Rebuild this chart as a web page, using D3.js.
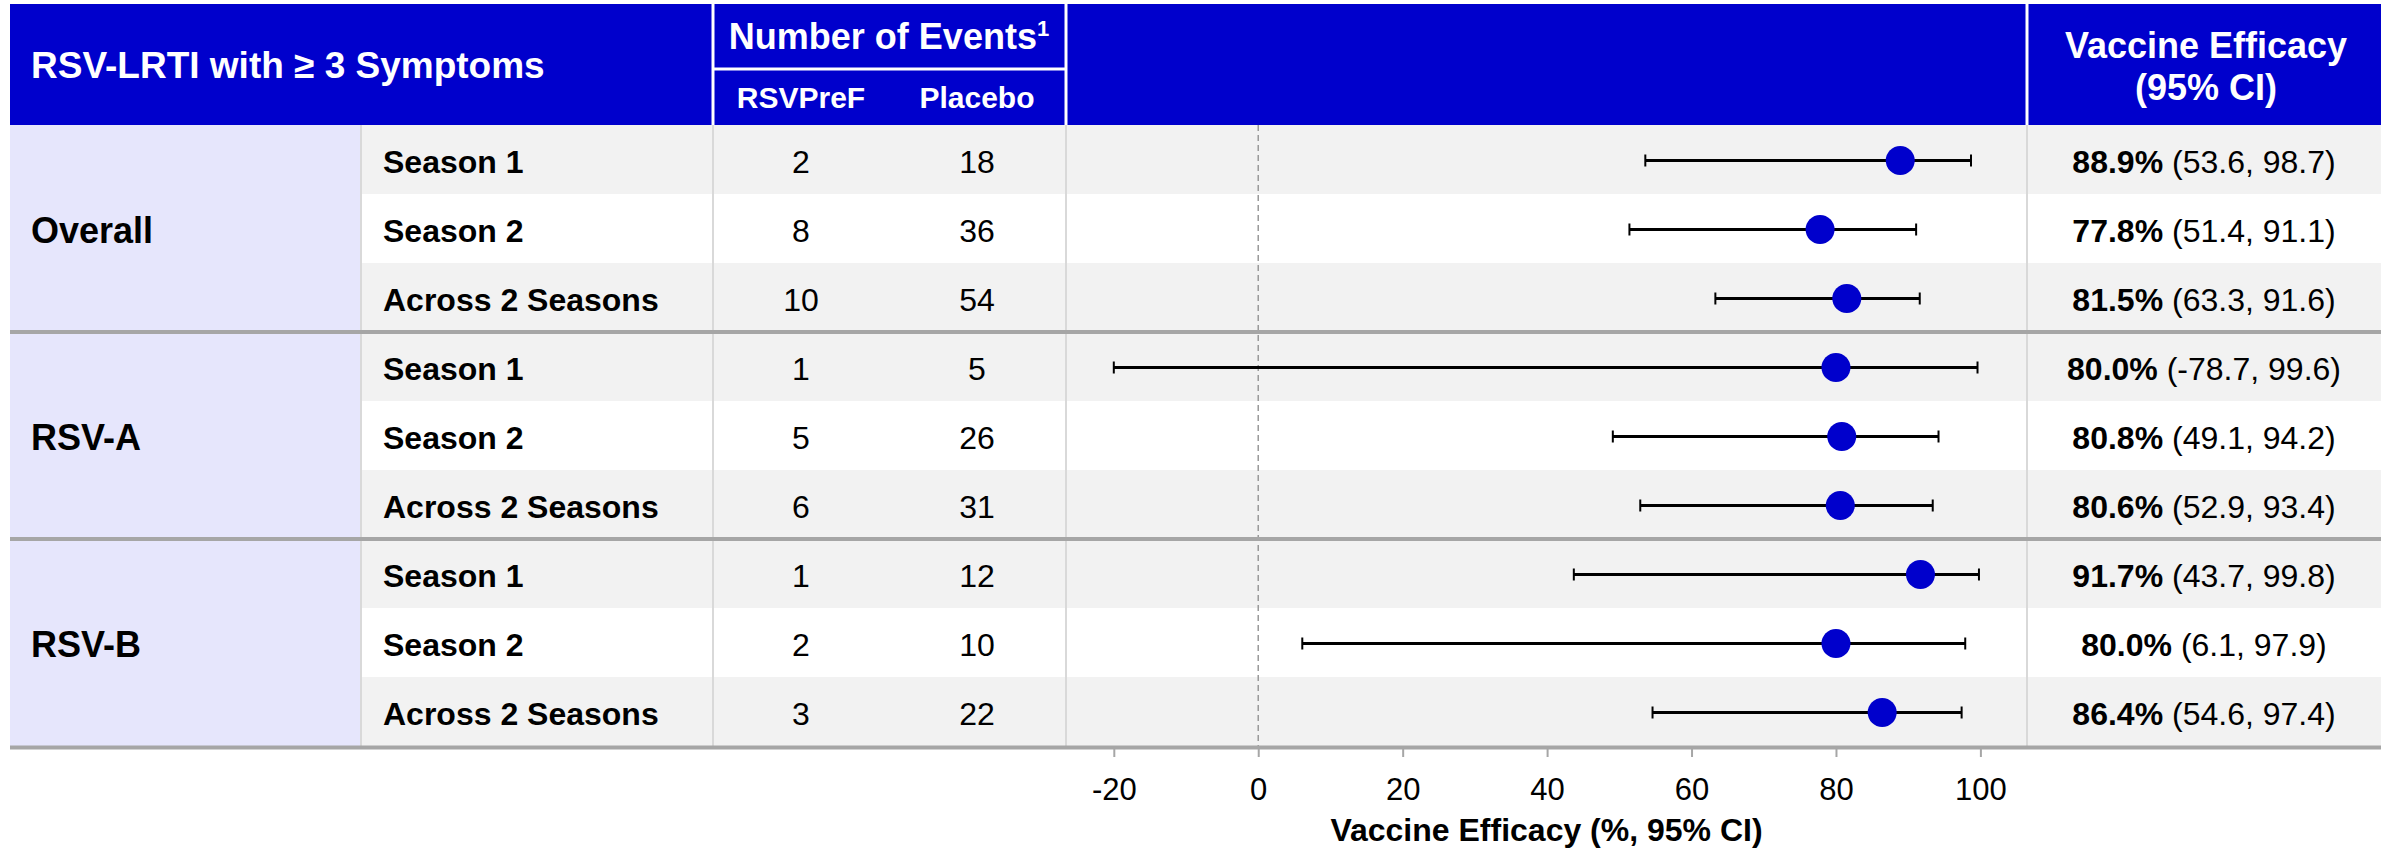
<!DOCTYPE html>
<html>
<head>
<meta charset="utf-8">
<script src="https://cdn.jsdelivr.net/npm/d3@7"></script>
<style>
  html, body { margin: 0; padding: 0; background: #fff; }
  svg { display: block; font-family: "Liberation Sans", Arial, sans-serif; }
</style>
</head>
<body>
<svg id="chart" width="2387" height="848"></svg>
<script>
// ---------------- DATA ----------------
const groups = ["Overall", "RSV-A", "RSV-B"];
const subgroups = ["Season 1", "Season 2", "Across 2 Seasons"];
const rowGroup = ["Overall","Overall","Overall","RSV-A","RSV-A","RSV-A","RSV-B","RSV-B","RSV-B"];
const rowLabels = ["Season 1","Season 2","Across 2 Seasons","Season 1","Season 2","Across 2 Seasons","Season 1","Season 2","Across 2 Seasons"];
const vaccineEvents = [2, 8, 10, 1, 5, 6, 1, 2, 3];
const placeboEvents = [18, 36, 54, 5, 26, 31, 12, 10, 22];
const ve = [88.9, 77.8, 81.5, 80.0, 80.8, 80.6, 91.7, 80.0, 86.4];
const ciLow = [53.6, 51.4, 63.3, -78.7, 49.1, 52.9, 43.7, 6.1, 54.6];
const ciHigh = [98.7, 91.1, 91.6, 99.6, 94.2, 93.4, 99.8, 97.9, 97.4];
const xTicks = [-20, 0, 20, 40, 60, 80, 100];
const headerTitle = "RSV-LRTI with \u2265 3 Symptoms";
const eventsHeader = "Number of Events";
const armLabels = ["RSVPreF", "Placebo"];
const veHeader = ["Vaccine Efficacy", "(95% CI)"];
const axisTitle = "Vaccine Efficacy (%, 95% CI)";

// ---------------- LAYOUT ----------------
const BLUE = "#0000cc";
const FONT = "'Liberation Sans', Arial, sans-serif";
const L = 10, R = 2381;
const headTop = 4, headBot = 125;
const colGroupEnd = 361, colSubEnd = 713, colEvMid = 889, colEvEnd = 1066, colVE = 2027;
const veCenter = 2204;
const armCenters = [801, 977];

const svg = d3.select("#chart");

const rows = d3.range(rowLabels.length);
const y = d3.scaleBand().domain(rows).range([headBot, headBot + 69 * rows.length]).padding(0);
const tableBot = y.range()[1];

const x = d3.scaleLinear().domain([-20, 100]).range([1113.8, 1980.4]);
const xMin = -20;

// ---------------- BODY BACKGROUNDS ----------------
svg.append("g").selectAll("rect").data(rows).join("rect")
  .attr("x", colGroupEnd).attr("y", i => y(i))
  .attr("width", R - colGroupEnd).attr("height", y.bandwidth())
  .attr("fill", i => (i % 3 === 1) ? "#ffffff" : "#f2f2f2");

// group column (lavender)
groups.forEach((g, gi) => {
  const idx = rows.filter(i => rowGroup[i] === g);
  const y0 = y(idx[0]), y1 = y(idx[idx.length - 1]) + y.bandwidth();
  svg.append("rect").attr("x", L).attr("y", y0).attr("width", colGroupEnd - L)
    .attr("height", y1 - y0).attr("fill", "#e6e6fc");
});

// vertical light grey lines
[colGroupEnd, colSubEnd, colEvEnd, colVE].forEach(cx => {
  svg.append("line").attr("x1", cx).attr("x2", cx).attr("y1", headBot).attr("y2", tableBot)
    .attr("stroke", "#d9d9d9").attr("stroke-width", 2);
});

// zero reference line (dashed)
svg.append("line").attr("x1", x(0)).attr("x2", x(0)).attr("y1", headBot).attr("y2", tableBot)
  .attr("stroke", "#999").attr("stroke-width", 1.5).attr("stroke-dasharray", "6,4");

// group separators
groups.forEach((g, gi) => {
  if (gi === 0) return;
  const first = rows.find(i => rowGroup[i] === g);
  svg.append("line").attr("x1", L).attr("x2", R).attr("y1", y(first)).attr("y2", y(first))
    .attr("stroke", "#a6a6a6").attr("stroke-width", 4);
});
// bottom line
svg.append("line").attr("x1", L).attr("x2", R).attr("y1", tableBot + 1.5).attr("y2", tableBot + 1.5)
  .attr("stroke", "#a6a6a6").attr("stroke-width", 4);

// ---------------- HEADER ----------------
svg.append("rect").attr("x", L).attr("y", headTop).attr("width", R - L).attr("height", headBot - headTop)
  .attr("fill", BLUE);
[colSubEnd, colEvEnd, colVE].forEach(cx => {
  svg.append("line").attr("x1", cx).attr("x2", cx).attr("y1", headTop).attr("y2", headBot)
    .attr("stroke", "#fff").attr("stroke-width", 3);
});
svg.append("line").attr("x1", colSubEnd).attr("x2", colEvEnd).attr("y1", 69).attr("y2", 69)
  .attr("stroke", "#fff").attr("stroke-width", 3);

svg.append("text").attr("x", 31).attr("y", 78).attr("fill", "#fff")
  .attr("font-size", 37).attr("font-weight", "bold").text(headerTitle);

const evH = svg.append("text").attr("x", colEvMid).attr("y", 49).attr("fill", "#fff")
  .attr("font-size", 36).attr("font-weight", "bold").attr("text-anchor", "middle");
evH.append("tspan").text(eventsHeader);
evH.append("tspan").attr("font-size", 22).attr("dy", -13).text("1");

armLabels.forEach((a, i) => {
  svg.append("text").attr("x", armCenters[i]).attr("y", 108).attr("fill", "#fff")
    .attr("font-size", 30).attr("font-weight", "bold").attr("text-anchor", "middle").text(a);
});

veHeader.forEach((t, i) => {
  svg.append("text").attr("x", veCenter + 2).attr("y", 58 + i * 42).attr("fill", "#fff")
    .attr("font-size", 36).attr("font-weight", "bold").attr("text-anchor", "middle").text(t);
});

// ---------------- BODY TEXT ----------------
groups.forEach(g => {
  const idx = rows.filter(i => rowGroup[i] === g);
  const mid = idx[Math.floor(idx.length / 2)];
  svg.append("text").attr("x", 31).attr("y", y(mid) + y.bandwidth() / 2).attr("dy", "0.4em")
    .attr("font-size", 36).attr("font-weight", "bold").attr("fill", "#000").text(g);
});

const rowG = svg.append("g").selectAll("g").data(rows).join("g")
  .attr("transform", i => `translate(0,${y(i) + y.bandwidth() / 2 + 1})`);

rowG.append("text").attr("x", 383).attr("dy", "0.38em").attr("font-size", 32)
  .attr("font-weight", "bold").text(i => rowLabels[i]);

rowG.append("text").attr("x", armCenters[0]).attr("dy", "0.38em").attr("font-size", 32)
  .attr("text-anchor", "middle").text(i => vaccineEvents[i]);
rowG.append("text").attr("x", armCenters[1]).attr("dy", "0.38em").attr("font-size", 32)
  .attr("text-anchor", "middle").text(i => placeboEvents[i]);

const veT = rowG.append("text").attr("x", veCenter).attr("dy", "0.38em").attr("font-size", 32)
  .attr("text-anchor", "middle");
veT.append("tspan").attr("font-weight", "bold").text(i => ve[i].toFixed(1) + "%");
veT.append("tspan").text(i => " (" + ciLow[i].toFixed(1) + ", " + ciHigh[i].toFixed(1) + ")");

// ---------------- FOREST MARKS ----------------
const lo = i => x(Math.max(ciLow[i], xMin));
rowG.append("line").attr("x1", lo).attr("x2", i => x(ciHigh[i]))
  .attr("stroke", "#000").attr("stroke-width", 3);
rowG.append("line").attr("x1", lo).attr("x2", lo).attr("y1", -6).attr("y2", 6)
  .attr("stroke", "#000").attr("stroke-width", 2);
rowG.append("line").attr("x1", i => x(ciHigh[i])).attr("x2", i => x(ciHigh[i])).attr("y1", -6).attr("y2", 6)
  .attr("stroke", "#000").attr("stroke-width", 2);
rowG.append("circle").attr("cx", i => x(ve[i])).attr("r", 14.5).attr("fill", BLUE);

// ---------------- AXIS ----------------
const axis = svg.append("g").attr("transform", `translate(0,${tableBot + 3})`)
  .call(d3.axisBottom(x).tickValues(xTicks).tickSize(8).tickPadding(21).tickFormat(d => d));
axis.select(".domain").remove();
axis.selectAll(".tick line").attr("stroke", "#a6a6a6").attr("stroke-width", 2);
axis.selectAll(".tick text").attr("font-size", 31).attr("font-family", FONT).attr("fill", "#000");

svg.append("text").attr("x", (colEvEnd + colVE) / 2).attr("y", 841).attr("text-anchor", "middle")
  .attr("font-size", 32).attr("font-weight", "bold").text(axisTitle);
</script>
</body>
</html>
